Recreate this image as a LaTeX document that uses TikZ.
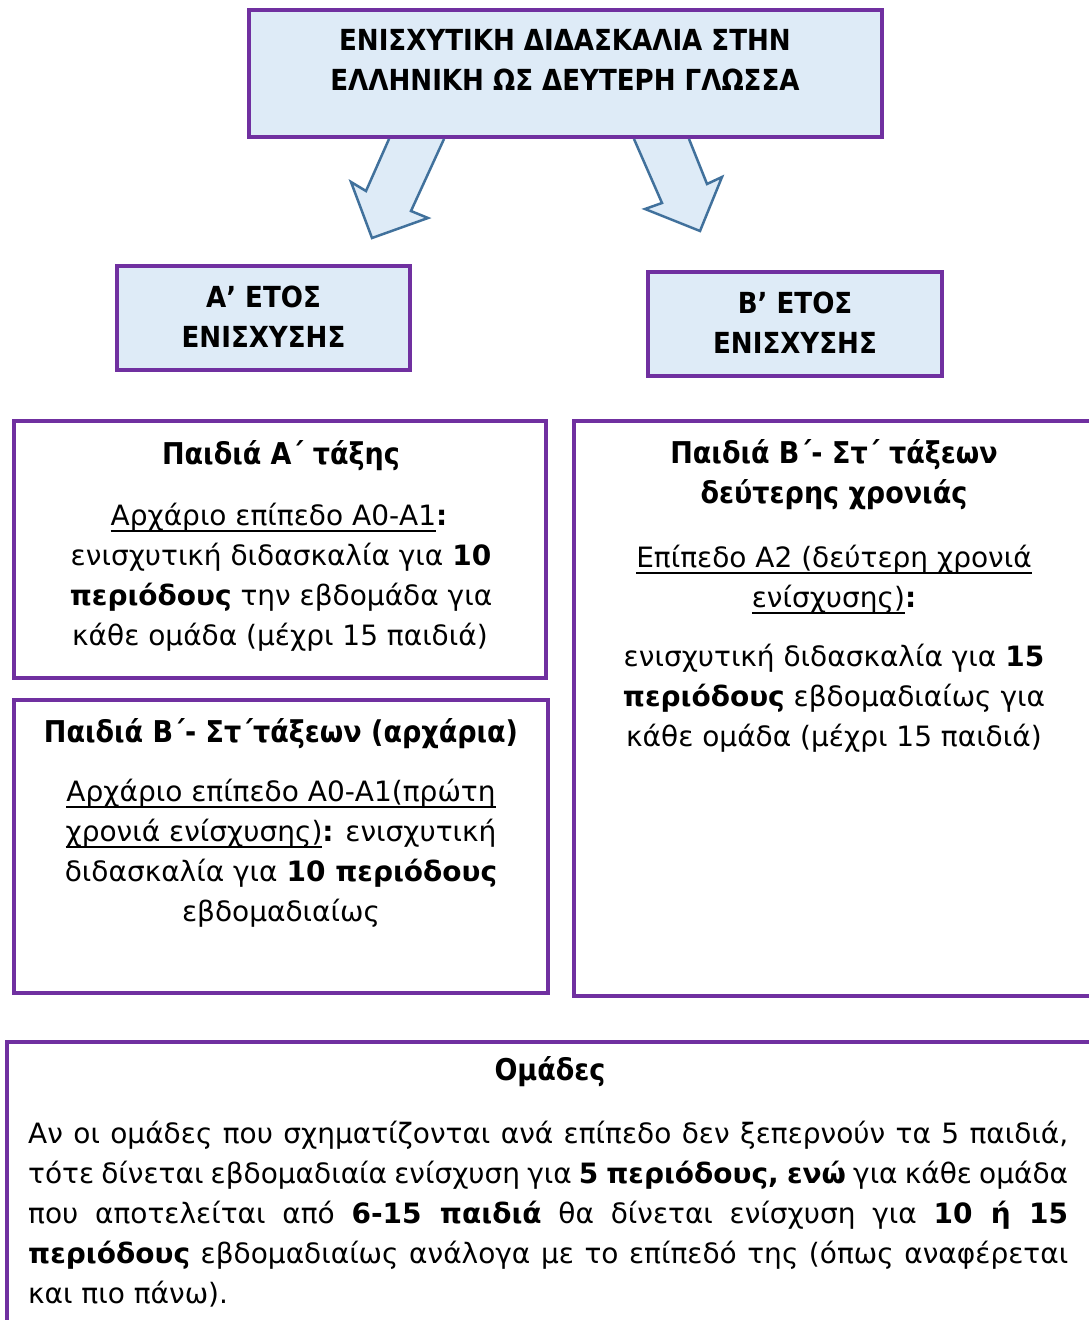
\documentclass[tikz,border=0pt]{standalone}
\usepackage{fontspec}
\setmainfont{DejaVu Sans}
\newfontfamily\condfam{DejaVu Sans Condensed}
\definecolor{purp}{HTML}{7030A0}
\definecolor{lblue}{HTML}{DEEBF7}
\definecolor{arrowc}{HTML}{41719C}
\newsavebox\ulbox
\newcommand\myul[1]{\sbox\ulbox{#1}\rlap{\rule[-6.5pt]{\wd\ulbox}{1.8pt}}\usebox\ulbox}
\tikzset{
  box/.style={draw=purp, line width=4.5pt, rectangle, inner sep=0pt},
  txt/.style={anchor=base, inner sep=0pt, font=\fontsize{28}{32}\selectfont},
  ttl/.style={anchor=base, inner sep=0pt, font=\condfam\fontsize{30}{34}\selectfont\bfseries},
  capt/.style={anchor=base, inner sep=0pt, font=\condfam\fontsize{29}{33}\selectfont\bfseries},
  arrfill/.style={fill=lblue},
  arrline/.style={draw=arrowc, line width=2.5pt, line join=miter}
}
\begin{document}
\begin{tikzpicture}[x=1pt,y=-1pt]
\useasboundingbox (0,0) rectangle (1088,1320);
% top box
\node[box, fill=lblue, minimum width=633pt, minimum height=127pt] (top) at (565.5,73.5) {};
% block arrows
\fill[arrfill] (389,139) -- (366,191) -- (351,182) -- (372,238) -- (428,218) -- (411,211) -- (444,139) -- cycle;
\draw[arrline] (389,139) -- (366,191) -- (351,182) -- (372,238) -- (428,218) -- (411,211) -- (444,139);
\fill[arrfill] (634,139) -- (662,203) -- (645,209) -- (700,231) -- (722,177) -- (707,184) -- (689,139) -- cycle;
\draw[arrline] (634,139) -- (662,203) -- (645,209) -- (700,231) -- (722,177) -- (707,184) -- (689,139);
\node[capt] (top1) at (565,50) {ΕΝΙΣΧΥΤΙΚΗ ΔΙΔΑΣΚΑΛΙΑ ΣΤΗΝ};
\node[capt] (top2) at (565,90) {ΕΛΛΗΝΙΚΗ ΩΣ ΔΕΥΤΕΡΗ ΓΛΩΣΣΑ};
% year boxes
\node[box, fill=lblue, minimum width=293pt, minimum height=104pt] (ya) at (263.5,318) {};
\node[capt] (ya1) at (263.5,307) {Α’ ΕΤΟΣ};
\node[capt] (ya2) at (263.5,347) {ΕΝΙΣΧΥΣΗΣ};
\node[box, fill=lblue, minimum width=294pt, minimum height=104pt] (yb) at (795,324) {};
\node[capt] (yb1) at (795,313) {Β’ ΕΤΟΣ};
\node[capt] (yb2) at (795,353) {ΕΝΙΣΧΥΣΗΣ};
% left box 1
\node[box, minimum width=532pt, minimum height=257pt] (l1) at (280,549.5) {};
\node[ttl] (l1t) at (281,464) {Παιδιά Α΄ τάξης};
\node[txt] (l1a) at (279,525) {\myul{Αρχάριο επίπεδο Α0-Α1}\textbf{:}};
\node[txt] (l1b) at (281,565) {ενισχυτική διδασκαλία για \textbf{10}};
\node[txt] (l1c) at (281,605) {\textbf{περιόδους} την εβδομάδα για};
\node[txt] (l1d) at (280,645) {κάθε ομάδα (μέχρι 15 παιδιά)};
% left box 2
\node[box, minimum width=534pt, minimum height=293pt] (l2) at (281,846.5) {};
\node[ttl] (l2t) at (281,742) {Παιδιά Β΄- Στ΄τάξεων (αρχάρια)};
\node[txt] (l2a) at (281,801) {\myul{Αρχάριο επίπεδο Α0-Α1(πρώτη}};
\node[txt] (l2b) at (281,841) {\myul{χρονιά ενίσχυσης)}\textbf{:} ενισχυτική};
\node[txt] (l2c) at (281,881) {διδασκαλία για \textbf{10 περιόδους}};
\node[txt] (l2d) at (281,921) {εβδομαδιαίως};
% right box
\node[box, minimum width=522pt, minimum height=575pt] (r) at (835,708.5) {};
\node[ttl] (rt1) at (834,463) {Παιδιά Β΄- Στ΄ τάξεων};
\node[ttl] (rt2) at (834,503) {δεύτερης χρονιάς};
\node[txt] (ra) at (834,567) {\myul{Επίπεδο Α2 (δεύτερη χρονιά}};
\node[txt] (rb) at (834,607) {\myul{ενίσχυσης)}\textbf{:}};
\node[txt] (rc) at (834,666) {ενισχυτική διδασκαλία για \textbf{15}};
\node[txt] (rd) at (834,706) {\textbf{περιόδους} εβδομαδιαίως για};
\node[txt] (re) at (834,746) {κάθε ομάδα (μέχρι 15 παιδιά)};
% bottom box
\node[box, minimum width=1093pt, minimum height=298pt] (bt) at (553.5,1191) {};
\node[ttl] (btt) at (550,1080) {Ομάδες};
\node[txt, anchor=base west] (b1) at (28,1143) {\hbox to 1040pt{Αν οι ομάδες που σχηματίζονται ανά επίπεδο δεν ξεπερνούν τα 5 παιδιά,}};
\node[txt, anchor=base west] (b2) at (28,1183) {\hbox to 1040pt{τότε δίνεται εβδομαδιαία ενίσχυση για \textbf{5 περιόδους, ενώ} για κάθε ομάδα}};
\node[txt, anchor=base west] (b3) at (28,1223) {\hbox to 1040pt{που αποτελείται από \textbf{6-15 παιδιά} θα δίνεται ενίσχυση για \textbf{10 ή 15}}};
\node[txt, anchor=base west] (b4) at (28,1263) {\hbox to 1040pt{\textbf{περιόδους} εβδομαδιαίως ανάλογα με το επίπεδό της (όπως αναφέρεται}};
\node[txt, anchor=base west] (b5) at (28,1303) {και πιο πάνω).};
\end{tikzpicture}
\end{document}
